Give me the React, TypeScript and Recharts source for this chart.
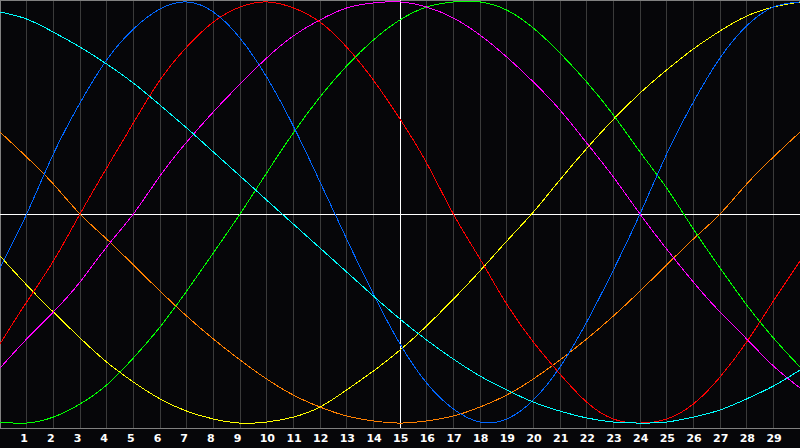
import React from "react";
import { LineChart, Line, XAxis, YAxis, CartesianGrid, ReferenceLine } from "recharts";

const xValues = [0, 1, 2, 3, 4, 5, 6, 7, 8, 9, 10, 11, 12, 13, 14, 15, 16, 17, 18, 19, 20, 21, 22, 23, 24, 25, 26, 27, 28, 29, 30];
const tickLabels = [1, 2, 3, 4, 5, 6, 7, 8, 9, 10, 11, 12, 13, 14, 15, 16, 17, 18, 19, 20, 21, 22, 23, 24, 25, 26, 27, 28, 29];

const cyanSeries = [94.4, 91.1, 85.0, 78.0, 70.1, 61.2, 50.9, 40.2, 29.0, 17.8, 6.5, -4.7, -15.9, -27.1, -38.3, -49.1, -58.9, -67.8, -75.7, -82.2, -87.9, -92.1, -95.3, -97.2, -97.7, -97.2, -94.9, -91.6, -86.4, -80.4, -72.9];
const blueSeries = [-25.2, 0, 28.0, 51.9, 72.0, 86.4, 95.8, 99.1, 94.4, 82.2, 64.0, 41.1, 15.0, -11.7, -37.4, -60.7, -79.0, -91.1, -97.2, -95.8, -86.9, -71.5, -50.5, -26.2, 0, 28.0, 52.3, 72.9, 87.9, 96.7, 99.1];
const redSeries = [-60.7, -41.1, -22.0, 0, 21.5, 42.5, 62.6, 78.0, 89.7, 96.7, 99.1, 96.3, 89.7, 78.0, 62.6, 44.4, 23.8, 0, -21.0, -42.1, -59.8, -74.8, -87.9, -95.8, -97.7, -95.8, -88.8, -76.2, -59.8, -40.7, -22.0];
const magentaSeries = [-72.0, -58.4, -45.8, -31.8, -15.4, 0, 17.8, 33.6, 47.7, 60.7, 72.9, 83.2, 90.7, 96.3, 98.6, 99.1, 96.7, 91.6, 83.6, 73.4, 61.7, 48.6, 33.2, 17.3, 0, -16.4, -31.8, -45.8, -58.4, -71.0, -81.3];
const greenSeries = [-97.2, -97.7, -94.9, -88.8, -79.9, -67.3, -52.8, -36.0, -18.2, 0, 19.2, 37.9, 54.7, 69.2, 81.3, 90.7, 96.7, 99.1, 99.1, 95.3, 86.9, 75.2, 61.7, 46.3, 29.0, 12.1, -7.0, -25.2, -42.5, -57.9, -71.5];
const yellowSeries = [-19.6, -33.2, -45.8, -57.9, -69.2, -78.5, -86.4, -92.1, -95.8, -97.7, -97.2, -94.9, -90.2, -82.2, -73.4, -63.6, -52.3, -39.8, -26.6, -12.7, 0.9, 16.0, 30.6, 44.2, 56.5, 67.3, 77.1, 85.5, 92.5, 96.7, 99.1];
const orangeSeries = [38.3, 26.6, 14.0, 0, -11.7, -23.8, -36.0, -47.7, -58.4, -68.2, -77.1, -84.6, -90.2, -94.4, -96.7, -97.7, -96.7, -94.4, -90.2, -84.6, -77.1, -68.2, -58.4, -47.7, -36.0, -23.8, -11.7, 0, 14.0, 26.6, 38.3];

const data = xValues.map((x, i) => ({
  x,
  cyan: cyanSeries[i],
  blue: blueSeries[i],
  red: redSeries[i],
  magenta: magentaSeries[i],
  green: greenSeries[i],
  yellow: yellowSeries[i],
  orange: orangeSeries[i],
}));

const series = [
  { key: "orange", color: "#ff8000" },
  { key: "yellow", color: "#ffff00" },
  { key: "green", color: "#00ff00" },
  { key: "magenta", color: "#ff00ff" },
  { key: "red", color: "#ff0000" },
  { key: "blue", color: "#0066ff" },
  { key: "cyan", color: "#00ffff" },
];

const Tick = (props: any) => {
  const { x, y, payload } = props;
  const s = String(payload.value);
  const dx = s.length === 1 ? -2.5 : 0.7;
  return (
    <text
      x={x + dx}
      y={y}
      dy="0.71em"
      textAnchor="middle"
      fill="#ffffff"
      fontFamily="DejaVu Sans"
      fontWeight="bold"
      fontSize={11}
    >
      {s}
    </text>
  );
};

export default function App() {
  return (
    <div style={{ position: "absolute", left: 0, top: 0, width: 800, height: 448, background: "#060609" }}>
      <LineChart width={800} height={448} data={data} margin={{ top: 0, right: 0, bottom: 0, left: 0 }}>
        <CartesianGrid horizontal={false} stroke="#3a3a3a" shapeRendering="crispEdges" />
        <XAxis
          dataKey="x"
          type="number"
          domain={[0, 30]}
          ticks={tickLabels}
          interval={0}
          height={20}
          tickSize={0}
          tickMargin={6}
          tickLine={false}
          axisLine={{ stroke: "#808080", shapeRendering: "crispEdges" }}
          tick={<Tick />}
        />
        <YAxis hide type="number" domain={[-100, 100]} allowDataOverflow />
        <ReferenceLine x={0} stroke="#808080" shapeRendering="crispEdges" />
        <ReferenceLine y={100} stroke="#808080" shapeRendering="crispEdges" />
        <ReferenceLine x={15} stroke="#ffffff" shapeRendering="crispEdges" />
        <ReferenceLine y={0} stroke="#ffffff" shapeRendering="crispEdges" />
        {series.map((s) => (
          <Line
            key={s.key}
            dataKey={s.key}
            type="natural"
            stroke={s.color}
            strokeWidth={1}
            dot={false}
            activeDot={false}
            isAnimationActive={false}
            shapeRendering="crispEdges"
          />
        ))}
      </LineChart>
    </div>
  );
}
